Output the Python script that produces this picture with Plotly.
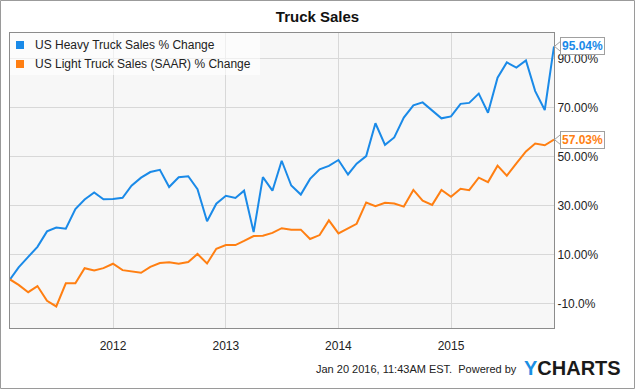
import pandas as pd
import plotly.graph_objects as go

# ---- data (monthly, % change since Feb 2011) ----
months = pd.date_range("2011-02-01", "2015-12-01", freq="MS")

heavy_truck = [
    0.0, 4.9, 9.2, 13.3, 19.6, 21.2, 20.7, 28.7, 32.6, 35.5,
    32.7, 32.8, 33.3, 38.2, 41.5, 43.8, 44.7, 37.7, 41.7, 42.1,
    36.8, 23.7, 30.9, 34.1, 33.2, 36.2, 19.3, 41.7, 36.2, 48.4,
    38.3, 34.6, 41.0, 44.9, 46.3, 48.7, 42.8, 47.2, 50.3, 63.7,
    54.9, 57.9, 66.0, 71.0, 72.2, 68.9, 65.7, 66.5, 71.6, 72.0,
    75.8, 68.0, 82.3, 88.5, 86.4, 89.3, 76.8, 69.1, 95.04,
]
light_truck = [
    0.0, -2.2, -5.2, -2.7, -8.7, -11.0, -1.6, -1.6, 4.6, 3.7,
    4.6, 6.4, 3.8, 3.3, 2.7, 5.1, 6.7, 7.0, 6.4, 7.1,
    10.4, 6.5, 12.5, 14.0, 14.0, 15.7, 17.7, 17.8, 19.0, 20.9,
    20.3, 20.3, 16.5, 18.1, 24.1, 18.8, 20.8, 22.7, 31.4, 29.9,
    31.3, 31.0, 29.7, 36.5, 32.1, 30.4, 36.5, 33.7, 37.0, 36.4,
    41.5, 39.7, 46.4, 42.3, 47.3, 52.2, 55.4, 54.7, 57.03,
]

series_names = ["US Heavy Truck Sales % Change", "US Light Truck Sales (SAAR) % Change"]
y_tick_values = [-10, 10, 30, 50, 70, 90]
y_tick_labels = ["-10.0%", "10.00%", "30.00%", "50.00%", "70.00%", "90.00%"]
x_tick_values = ["2012-01-01", "2013-01-01", "2014-01-01", "2015-01-01"]
x_tick_labels = ["2012", "2013", "2014", "2015"]

BLUE = "#1a8ae8"
ORANGE = "#ff7f12"
FONT = "Liberation Sans, Arial, sans-serif"

fig = go.Figure()
series = [(heavy_truck, series_names[0], BLUE),
          (light_truck, series_names[1], ORANGE)]
for vals, name, col in series:
    fig.add_trace(go.Scatter(x=months, y=vals, mode="lines", name=name,
                             line=dict(color=col, width=2), showlegend=False,
                             hoverinfo="skip"))

# legend (drawn as background box + square swatches + text)
fig.add_shape(type="rect", xref="paper", yref="paper",
              x0=0, x1=0.4596, y0=0.8576, y1=1,
              line=dict(width=0), fillcolor="rgba(255,255,255,0.6)", layer="above")
legend_rows_y = [0.9593, 0.8949]
for (vals, name, col), ly in zip(series, legend_rows_y):
    fig.add_shape(type="rect", xref="paper", yref="paper",
                  x0=0.0110, x1=0.0257, y0=ly - 0.0136, y1=ly + 0.0136,
                  line=dict(width=0), fillcolor=col, layer="above")
    fig.add_annotation(x=0.0423, xref="paper", y=ly, yref="paper",
                       xanchor="left", yanchor="middle", showarrow=False,
                       text=name, font=dict(family=FONT, size=12, color="#222222"))

# end-value labels with a small pointer
for vals, name, col in series:
    fig.add_annotation(x=1, xref="paper", y=vals[-1], yref="y",
                       xanchor="left", yanchor="middle", xshift=6,
                       text="<b>%.2f%%</b>" % vals[-1], showarrow=False,
                       font=dict(family=FONT, size=12, color=col),
                       bgcolor="white", bordercolor="#a0a0a0", borderwidth=1,
                       borderpad=1)
    fig.add_shape(type="path", xref="paper", yref="y",
                  xsizemode="pixel", ysizemode="pixel",
                  xanchor=1, yanchor=vals[-1],
                  path="M 6.5,-5 L 0.5,0 L 6.5,5",
                  line=dict(color="#a0a0a0", width=1))

# footer
fig.add_annotation(x=0.9357, xref="paper", y=-0.139, yref="paper",
                   xanchor="right", yanchor="middle", showarrow=False,
                   text="Jan 20 2016, 11:43AM EST.  Powered by",
                   font=dict(family=FONT, size=11, color="#222222"))
fig.add_annotation(x=0.941, xref="paper", y=-0.1356, yref="paper",
                   xanchor="left", yanchor="middle", showarrow=False,
                   text="<b><span style='color:#1a8fe3'>Y</span>CHARTS</b>",
                   font=dict(family=FONT, size=20, color="#1a1a1a"))

# outer frame
fig.add_shape(type="rect", xref="paper", yref="paper",
              x0=-0.01746, x1=1.1480, y0=-0.2051, y1=1.1102,
              line=dict(color="#9a9a9a", width=1), fillcolor="rgba(0,0,0,0)",
              layer="below")

fig.update_layout(
    width=635, height=389,
    margin=dict(l=10, r=81, t=33, b=61),
    paper_bgcolor="white", plot_bgcolor="#f7f7f7",
    font=dict(family=FONT, size=12, color="#222222"),
    showlegend=False,
    title=dict(text="<b>Truck Sales</b>", x=0.5, xref="container",
               y=1 - 17 / 389, yref="container", yanchor="middle",
               font=dict(family=FONT, size=15, color="#111111")),
    xaxis=dict(range=[months[0], months[-1]], tickvals=x_tick_values,
               ticktext=x_tick_labels, showgrid=True, gridcolor="#d8d8d8",
               gridwidth=1, zeroline=False, showline=True, linecolor="#8c8c8c",
               mirror=True, ticks="", ticklabelstandoff=7,
               tickfont=dict(size=12, color="#222222")),
    yaxis=dict(range=[-19.8, 100.5], tickvals=y_tick_values,
               ticktext=y_tick_labels, side="right", showgrid=True,
               gridcolor="#d8d8d8", gridwidth=1, zeroline=False,
               showline=True, linecolor="#8c8c8c", mirror=True, ticks="",
               tickfont=dict(size=12, color="#222222")),
)

fig.write_html("out.html", config={"displayModeBar": False},
               post_script="document.body.style.margin='0';")
